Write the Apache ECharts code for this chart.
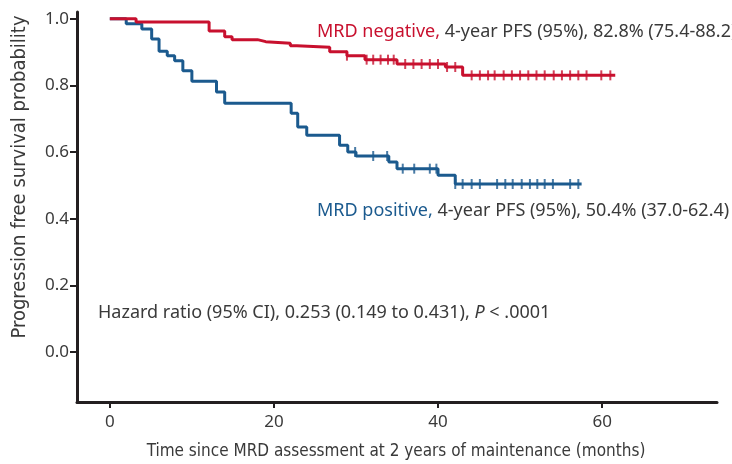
<!DOCTYPE html>
<html>
<head>
<meta charset="utf-8">
<script src="https://cdn.jsdelivr.net/npm/echarts@6/dist/echarts.min.js"></script>
<style>
html, body { margin: 0; padding: 0; background: #fff; }
#chart { width: 732px; height: 464px; }
</style>
</head>
<body>
<div id="chart"></div>
<script>
// Kaplan-Meier steps (months, survival after the step)
var negTimes = [0, 3.2, 12.1, 14.0, 14.9, 18.0, 19.0, 22.0, 22.8, 26.8, 28.9, 31.1, 35.0, 40.9, 43.0];
var negSurv  = [1.0, 0.99, 0.963, 0.946, 0.937, 0.931, 0.926, 0.919, 0.914, 0.901, 0.889, 0.877, 0.864, 0.855, 0.83];
var negEnd = 61.6;
var negCensor = [28.9, 31.3, 32.1, 33.0, 33.9, 34.6, 36.0, 37.0, 38.0, 39.0, 40.0, 41.1, 42.1,
                 44.1, 45.1, 46.1, 46.9, 48.0, 49.0, 50.0, 51.0, 52.0, 53.0, 54.1, 55.1, 56.1, 57.1, 58.1, 59.9, 61.0];

var posTimes = [0, 2.0, 3.9, 5.1, 6.0, 7.0, 7.9, 8.9, 10.0, 13.0, 14.0, 22.1, 22.9, 24.0, 28.0, 29.0, 30.0, 34.0, 35.0, 40.0, 42.1];
var posSurv  = [1.0, 0.985, 0.969, 0.939, 0.902, 0.889, 0.874, 0.844, 0.812, 0.780, 0.746, 0.716, 0.675, 0.65, 0.62, 0.60, 0.588, 0.57, 0.55, 0.53, 0.504];
var posEnd = 57.5;
var posCensor = [29.9, 32.1, 33.8, 35.7, 37.1, 39.0, 39.8, 42.1, 43.0, 44.1, 45.1, 47.2, 48.2, 49.1,
                 50.2, 51.2, 52.1, 53.0, 54.0, 56.1, 57.1];

var xTicks = [0, 20, 40, 60];
var yTicks = [0, 0.2, 0.4, 0.6, 0.8, 1.0];

var red = '#c8102e';
var blue = '#1b5a8e';
var ink = '#3a3a3a';
var fs = 17;
var noteFs = 18;

function stepData(times, surv, end) {
	var d = [];
	for (var i = 0; i < times.length; i++) d.push([times[i], surv[i]]);
	d.push([end, surv[surv.length - 1]]);
	return d;
}
// survival level at time t (for placing censor marks)
function survAt(times, surv, t) {
	var s = surv[0];
	for (var i = 0; i < times.length; i++) {
		if (times[i] <= t) s = surv[i];
	}
	return s;
}
function censorData(times, surv, cens) {
	return cens.map(function (t) { return [t, survAt(times, surv, t)]; });
}

var chart = echarts.init(document.getElementById('chart'));
var axisColor = '#231f20';
var option = {
	animation: false,
	grid: { left: 77, right: 15, top: 12, bottom: 62, containLabel: false },
	title: [
		{
			text: '{r|MRD negative,} 4-year PFS (95%), 82.8% (75.4-88.2)',
			left: 317, top: 23, padding: 0,
			textStyle: { fontSize: noteFs, fontWeight: 'normal', color: ink, fontFamily: 'Noto Sans',
				rich: { r: { color: red, fontSize: noteFs, fontFamily: 'Noto Sans' } } }
		},
		{
			text: '{b|MRD positive,} 4-year PFS (95%), 50.4% (37.0-62.4)',
			left: 317, top: 202, padding: 0,
			textStyle: { fontSize: noteFs, fontWeight: 'normal', color: ink, fontFamily: 'Noto Sans',
				rich: { b: { color: blue, fontSize: noteFs, fontFamily: 'Noto Sans' } } }
		},
		{
			text: 'Hazard ratio (95% CI), 0.253 (0.149 to 0.431), {i|P} < .0001',
			left: 98, top: 304, padding: 0,
			textStyle: { fontSize: noteFs, fontWeight: 'normal', color: ink, fontFamily: 'Noto Sans',
				rich: { i: { fontStyle: 'italic', fontSize: noteFs, color: ink, fontFamily: 'Noto Sans' } } }
		}
	],
	graphic: [
		{
			type: 'text', x: 396, y: 452,
			style: { text: 'Time since MRD assessment at 2 years of maintenance (months)',
				fill: ink, fontSize: 17, fontFamily: "'Liberation Sans Narrow', 'DejaVu Sans Condensed', sans-serif",
				textAlign: 'center', textVerticalAlign: 'middle' }
		},
		{
			type: 'text', x: 20, y: 177, rotation: Math.PI / 2,
			style: { text: 'Progression free survival probability',
				fill: ink, fontSize: 20, fontFamily: "'Liberation Sans Narrow', 'DejaVu Sans Condensed', sans-serif",
				textAlign: 'center', textVerticalAlign: 'middle' }
		}
	],
	xAxis: {
		type: 'value', min: -4, max: 74,
		splitLine: { show: false },
		axisLine: { onZero: false, lineStyle: { color: axisColor, width: 3 } },
		axisTick: { customValues: xTicks, length: 6, lineStyle: { color: axisColor, width: 2 } },
		axisLabel: { customValues: xTicks, color: ink, fontSize: fs, fontFamily: 'Noto Sans', margin: 12 }
	},
	yAxis: {
		type: 'value', min: -0.15, max: 1.02,
		splitLine: { show: false },
		axisLine: { onZero: false, lineStyle: { color: axisColor, width: 3 } },
		axisTick: { customValues: yTicks, length: 7, lineStyle: { color: axisColor, width: 2 } },
		axisLabel: { customValues: yTicks, color: ink, fontSize: fs, fontFamily: 'Noto Sans', margin: 8,
			formatter: function (v) { return v.toFixed(1); } }
	},
	series: [
		{
			name: 'MRD positive', type: 'line', step: 'end', showSymbol: false,
			data: stepData(posTimes, posSurv, posEnd),
			lineStyle: { color: blue, width: 3 }, z: 2
		},
		{
			name: 'MRD positive censored', type: 'scatter', symbol: 'rect', symbolSize: [2, 10],
			data: censorData(posTimes, posSurv, posCensor),
			itemStyle: { color: blue }, z: 3
		},
		{
			name: 'MRD negative', type: 'line', step: 'end', showSymbol: false,
			data: stepData(negTimes, negSurv, negEnd),
			lineStyle: { color: red, width: 3 }, z: 4
		},
		{
			name: 'MRD negative censored', type: 'scatter', symbol: 'rect', symbolSize: [2, 10],
			data: censorData(negTimes, negSurv, negCensor),
			itemStyle: { color: red }, z: 5
		}
	]
};
chart.setOption(option);
</script>
</body>
</html>
